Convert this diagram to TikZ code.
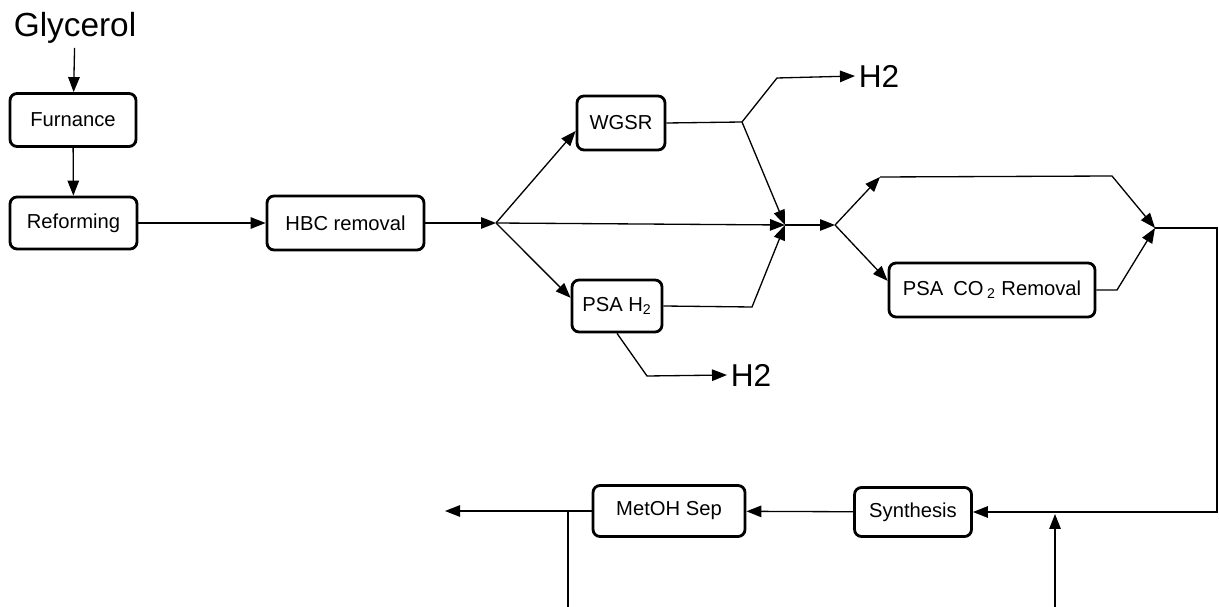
\documentclass[tikz,border=0pt]{standalone}
\usepackage{fontspec}
\setmainfont{Liberation Sans}
\usetikzlibrary{positioning,arrows.meta}
\tikzset{
  unit/.style={rectangle, rounded corners=4pt, draw, line width=1.6pt, inner sep=0pt, font=\fontsize{11.5}{13}\selectfont, text centered},
  arrow/.style={line width=0.75pt,-{Triangle[length=3mm,width=2.3mm]}},
  line/.style={line width=0.75pt},
  stream/.style={inner sep=2pt, font=\fontsize{18}{20}\selectfont}
}

\begin{document}
\begin{tikzpicture}[x=0.02cm,y=-0.02cm]
  \useasboundingbox (0,0) rectangle (1219,607);
  % Nodes
  \node (glycerol) [stream, anchor=base, font=\fontsize{19}{22}\selectfont] at (75,37) {Glycerol};
  \node (furnace) [unit, minimum width=2.52cm, minimum height=1.06cm] at (73,120) {Furnance};
  \node (reform) [unit, minimum width=2.54cm, minimum height=1.04cm] at (73.5,223) {Reforming};
  \node (hbc) [unit, minimum width=3.14cm, minimum height=1.08cm] at (345.5,223) {HBC removal};
  \node (wgsr) [unit, minimum width=1.76cm, minimum height=1.08cm] at (621,123) {WGSR};
  \node (psah2) [unit, minimum width=1.8cm, minimum height=1.04cm] at (617,306) {PSA H\textsubscript{2}};
  \node (psaco2) [unit, minimum width=4.12cm, minimum height=1.08cm] at (992,290) {PSA\enspace CO\,\textsubscript{2} Removal};
  \node (synth) [unit, minimum width=2.34cm, minimum height=0.98cm] at (913,512) {Synthesis};
  \node (metoh) [unit, minimum width=3.04cm, minimum height=1.02cm] at (669,511) {MetOH Sep};
  \node (h2top) [stream, anchor=west] at (855,76) {H2};
  \node (h2low) [stream, anchor=west] at (727,375) {H2};

  % Junctions
  \coordinate (split1) at (496,223);
  \coordinate (merge1) at (785,225);
  \coordinate (split2) at (835,225);
  \coordinate (merge2) at (1155,228);
  \coordinate (wgsrbend) at (742,122);
  \coordinate (h2bend) at (777,78);
  \coordinate (psabend) at (752,307);
  \coordinate (psalow) at (647,376);
  \coordinate (bypass) at (880,177);
  \coordinate (bypassend) at (1112,176);
  \coordinate (co2bend) at (1117,290);
  \coordinate (loopturn) at (1217,228);
  \coordinate (product) at (445,511);
  \coordinate (drain) at (568,511);
  \coordinate (drainend) at (568,607);
  \coordinate (makeup) at (1055,607);
  \coordinate (makeupend) at (1055,514);

  % Arrows
  \draw [arrow] (glycerol) -- (furnace);
  \draw [arrow] (furnace) -- (reform);
  \draw [arrow] (reform) -- (hbc);
  \draw [arrow] (hbc) -- (split1);
  \draw [arrow] (split1) -- (wgsr.190);
  \draw [arrow] (split1) -- (psah2.170);
  \draw [arrow] (split1) -- (merge1);
  \draw [arrow] (wgsr.east) -- (wgsrbend) -- (merge1);
  \draw [arrow] (wgsrbend) -- (h2bend) -- (h2top.west);
  \draw [arrow] (psah2.east) -- (psabend) -- (merge1);
  \draw [arrow] (psah2.south) -- (psalow) -- (h2low.west);
  \draw [arrow] (merge1) -- (split2);
  \draw [arrow] (split2) -- (bypass);
  \draw [arrow] (bypass) -- (bypassend) -- (merge2);
  \draw [arrow] (split2) -- (psaco2.175);
  \draw [arrow] (psaco2.east) -- (co2bend) -- (merge2);
  \draw [arrow] (merge2) -- (loopturn) |- (synth.east);
  \draw [arrow] (synth) -- (metoh);
  \draw [arrow] (metoh) -- (product);
  \draw [line] (drain) -- (drainend);
  \draw [arrow] (makeup) -- (makeupend);
\end{tikzpicture}
\end{document}
